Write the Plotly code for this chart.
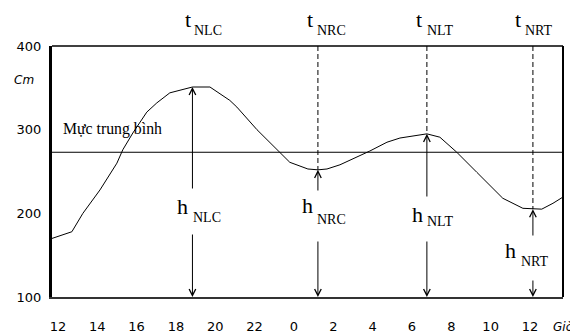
import plotly.graph_objects as go

# ---- data ----
hours = [11.7, 12.71, 13.27, 14.14, 15.0, 15.3, 15.81, 16.52, 17.03, 17.69, 18.84,
         19.73, 20.74, 21.1, 22.12, 23.29, 23.79, 24.71, 25.22, 25.68, 26.34,
         27.86, 28.73, 29.39, 30.76, 31.42, 32.28, 33.3, 34.62, 35.64, 36.15,
         36.6, 37.17, 37.68]
levels = [170, 178, 200, 228, 260, 276, 296, 321, 332, 344, 351,
          351, 335, 327, 300, 273, 261, 253, 252, 253, 258,
          274.5, 285, 290, 295, 291, 273, 249, 218, 206, 205,
          205, 212, 219.5]
mean_level = 273
mean_label = "Mực trung bình"

event_names = ["NLC", "NRC", "NLT", "NRT"]
event_hours = [18.84, 25.22, 30.76, 36.15]
event_levels = [351, 252, 295, 205]

x_tick_vals = [12, 14, 16, 18, 20, 22, 24, 26, 28, 30, 32, 34, 36]
x_tick_labels = ["12", "14", "16", "18", "20", "22", "0", "2", "4", "6", "8", "10", "12"]
y_tick_vals = [100, 200, 300, 400]
x_unit = "Giờ"
y_unit = "Cm"

# ---- layout / style constants ----
X_RANGE = [11.7, 37.68]
Y_RANGE = [100, 400]
PLOT_H = 251  # plot area height in px
SERIF = "Liberation Serif, Times New Roman, serif"
SANS = "DejaVu Sans, Verdana, sans-serif"


def px_above_bottom_to_level(px):
    return Y_RANGE[0] + px * (Y_RANGE[1] - Y_RANGE[0]) / PLOT_H


# per-event label geometry (px offsets, styling only)
t_shift = [-9, -12.5, -12.5, -19.5]
tsub_shift = [0, -2.5, -1.5, -9.5]
h_shift = [-17, -17.5, -16.5, -29.5]
hsub_shift = [-1, -2.5, -1.5, -13.5]
h_center = [90.4, 91.4, 82.4, 46.4]      # px above plot bottom
hsub_center = [79.5, 77.5, 75.5, 35.5]
gap_top_px = [107, 105, 99, 60]          # upper solid arrow starts (px above bottom)
gap_bottom_px = [64, 57, 57, 18]         # lower solid arrow starts
has_dash = [False, True, True, True]

fig = go.Figure()
fig.add_trace(go.Scatter(x=hours, y=levels, mode="lines",
                         line=dict(color="black", width=1), hoverinfo="skip",
                         showlegend=False))

shapes = []
annotations = []

# mean level line
shapes.append(dict(type="line", xref="paper", x0=0, x1=1, yref="y",
                   y0=mean_level, y1=mean_level, line=dict(color="black", width=1)))
# frame top & right
shapes.append(dict(type="line", xref="paper", yref="paper", x0=0, x1=1, y0=1, y1=1,
                   line=dict(color="black", width=1.5)))
shapes.append(dict(type="line", xref="paper", yref="paper", x0=1, x1=1, y0=0, y1=1,
                   line=dict(color="black", width=2)))

annotations.append(dict(text=mean_label, xref="paper", x=0, xanchor="left", xshift=9,
                        yref="paper", y=0, yanchor="middle", yshift=168,
                        showarrow=False,
                        font=dict(family=SERIF, size=15.8, color="black")))

for i, name in enumerate(event_names):
    xh = event_hours[i]
    lv = event_levels[i]
    if has_dash[i]:
        shapes.append(dict(type="line", xref="x", yref="y", x0=xh, x1=xh,
                           y0=Y_RANGE[1], y1=lv,
                           line=dict(color="black", width=1, dash="5px,3px")))
    # upper solid arrow pointing up to the curve
    annotations.append(dict(x=xh, y=lv, ax=xh, ay=px_above_bottom_to_level(gap_top_px[i]),
                            xref="x", yref="y", axref="x", ayref="y", showarrow=True,
                            arrowhead=5, arrowsize=1.3, arrowwidth=1,
                            arrowcolor="black", text=""))
    # lower solid arrow pointing down to the axis
    annotations.append(dict(x=xh, y=Y_RANGE[0], ax=xh,
                            ay=px_above_bottom_to_level(gap_bottom_px[i]),
                            xref="x", yref="y", axref="x", ayref="y", showarrow=True,
                            arrowhead=5, arrowsize=1.3, arrowwidth=1,
                            arrowcolor="black", text=""))
    # t label (main letter + subscript)
    annotations.append(dict(text="t", xref="x", x=xh, xanchor="left", xshift=t_shift[i],
                            yref="paper", y=1, yanchor="middle", yshift=26.4,
                            showarrow=False,
                            font=dict(family=SERIF, size=22, color="black")))
    annotations.append(dict(text=name, xref="x", x=xh, xanchor="left",
                            xshift=tsub_shift[i],
                            yref="paper", y=1, yanchor="middle", yshift=15.7,
                            showarrow=False,
                            font=dict(family=SERIF, size=14, color="black")))
    # h label
    annotations.append(dict(text="h", xref="x", x=xh, xanchor="left", xshift=h_shift[i],
                            yref="paper", y=0, yanchor="middle", yshift=h_center[i],
                            showarrow=False,
                            font=dict(family=SERIF, size=22, color="black")))
    annotations.append(dict(text=name, xref="x", x=xh, xanchor="left",
                            xshift=hsub_shift[i],
                            yref="paper", y=0, yanchor="middle", yshift=hsub_center[i],
                            showarrow=False,
                            font=dict(family=SERIF, size=14, color="black")))

annotations.append(dict(text="<i>" + y_unit + "</i>", xref="paper", x=0,
                        xanchor="right", xshift=-16, yref="paper", y=0,
                        yanchor="middle", yshift=217,
                        showarrow=False, font=dict(family=SANS, size=12, color="black")))
annotations.append(dict(text="<i>" + x_unit + "</i>", xref="paper", x=1,
                        xanchor="left", xshift=-12, yref="paper", y=0,
                        yanchor="middle", yshift=-30,
                        showarrow=False, font=dict(family=SANS, size=12, color="black")))

fig.update_layout(
    width=570, height=325,
    margin=dict(l=44, r=15, t=38, b=36, autoexpand=False),
    paper_bgcolor="white", plot_bgcolor="white",
    shapes=shapes, annotations=annotations,
    xaxis=dict(range=X_RANGE, tickvals=x_tick_vals, ticktext=x_tick_labels,
               showgrid=False, zeroline=False, showline=True, linecolor="#333",
               linewidth=2, ticks="outside", ticklen=0, ticklabelstandoff=16,
               automargin=False,
               tickfont=dict(family=SANS, size=13, color="black"), fixedrange=True),
    yaxis=dict(range=Y_RANGE, tickvals=y_tick_vals, showgrid=False, zeroline=False,
               showline=True, linecolor="black", linewidth=3, ticks="outside",
               ticklen=0, ticklabelstandoff=5, automargin=False,
               tickfont=dict(family=SANS, size=13, color="black"), fixedrange=True),
    showlegend=False,
)

fig.write_html("out.html")
